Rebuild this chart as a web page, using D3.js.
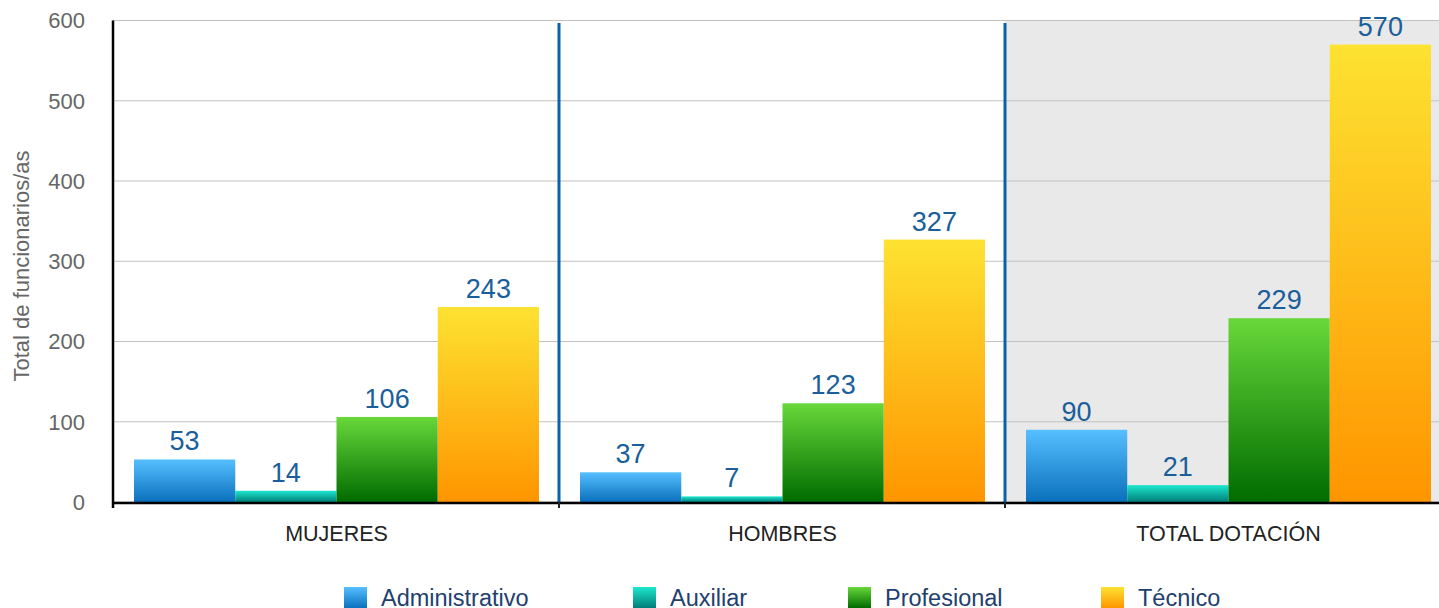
<!DOCTYPE html>
<html><head><meta charset="utf-8">
<script src="https://cdn.jsdelivr.net/npm/d3@7"></script>
<style>body{margin:0;background:#fff;overflow:hidden}svg{display:block;font-family:"Liberation Sans",Arial,sans-serif}</style>
</head><body><svg id="c" width="1439" height="608"></svg>
<script>
const categories = ["MUJERES", "HOMBRES", "TOTAL DOTACIÓN"];
const seriesNames = ["Administrativo", "Auxiliar", "Profesional", "Técnico"];
const administrativo = [53, 37, 90];
const auxiliar = [14, 7, 21];
const profesional = [106, 123, 229];
const tecnico = [243, 327, 570];
const yTicks = [0, 100, 200, 300, 400, 500, 600];
const yTitle = "Total de funcionarios/as";

(function () {
const seriesValues = [administrativo, auxiliar, profesional, tecnico];
const gradStops = [["#56bfff", "#0a70bc"], ["#1de8cf", "#007d78"], ["#68d83a", "#006b00"], ["#fde232", "#ff9500"]];

const svg = d3.select("#c");
const plotLeft = 113, plotBottom = 502, plotTop = 20.5, bandW = 446;
const x = d3.scaleBand().domain(categories).range([plotLeft, plotLeft + bandW * 3]).padding(0);
const xi = d3.scaleBand().domain(seriesNames).range([21, bandW - 20]).padding(0);
const y = d3.scaleLinear().domain([0, 600]).range([plotBottom, plotTop]);

const defs = svg.append("defs");
gradStops.forEach((g, i) => {
  const lg = defs.append("linearGradient").attr("id", "g" + i).attr("x1", 0).attr("y1", 0).attr("x2", 0).attr("y2", 1);
  lg.append("stop").attr("offset", "0%").attr("stop-color", g[0]);
  lg.append("stop").attr("offset", "100%").attr("stop-color", g[1]);
});

svg.append("rect").attr("x", x("TOTAL DOTACIÓN")).attr("y", y(600)).attr("width", x.bandwidth()).attr("height", y(0) - y(600)).attr("fill", "#e9e9e9");

svg.append("g").selectAll("line").data(yTicks).join("line")
  .attr("x1", plotLeft).attr("x2", 1439).attr("y1", d => y(d)).attr("y2", d => y(d))
  .attr("stroke", "#c2c2c2").attr("stroke-width", 1.2);

svg.append("g").selectAll("text").data(yTicks).join("text")
  .attr("x", 85).attr("y", d => y(d)).attr("dy", "0.36em").attr("text-anchor", "end")
  .attr("font-size", 22).attr("fill", "#666").text(d => d);

svg.append("text").attr("transform", "translate(29,266) rotate(-90)").attr("text-anchor", "middle")
  .attr("font-size", 22).attr("fill", "#666").text(yTitle);

const groups = svg.append("g").selectAll("g").data(categories).join("g")
  .attr("transform", d => `translate(${x(d)},0)`);
seriesNames.forEach((s, si) => {
  groups.append("rect")
    .attr("x", xi(s)).attr("width", xi.bandwidth())
    .attr("y", (d, ci) => y(seriesValues[si][ci]))
    .attr("height", (d, ci) => y(0) - y(seriesValues[si][ci]))
    .attr("fill", `url(#g${si})`);
  groups.append("text")
    .attr("x", xi(s) + xi.bandwidth() / 2)
    .attr("y", (d, ci) => y(seriesValues[si][ci]) - 9)
    .attr("text-anchor", "middle").attr("font-size", 27).attr("fill", "#1a5e9a")
    .text((d, ci) => seriesValues[si][ci]);
});

svg.append("g").selectAll("line").data(categories.slice(1)).join("line")
  .attr("x1", d => x(d)).attr("x2", d => x(d)).attr("y1", 23).attr("y2", plotBottom)
  .attr("stroke", "#0a62ad").attr("stroke-width", 3);

svg.append("line").attr("x1", plotLeft).attr("x2", 1439).attr("y1", plotBottom + 1).attr("y2", plotBottom + 1).attr("stroke", "#000").attr("stroke-width", 2.5);
svg.append("line").attr("x1", plotLeft).attr("x2", plotLeft).attr("y1", plotTop).attr("y2", plotBottom + 6).attr("stroke", "#000").attr("stroke-width", 2.5);
svg.append("g").selectAll("line").data(categories.slice(1)).join("line")
  .attr("x1", d => x(d)).attr("x2", d => x(d)).attr("y1", plotBottom).attr("y2", plotBottom + 6)
  .attr("stroke", "#222").attr("stroke-width", 2);

svg.append("g").selectAll("text").data(categories).join("text")
  .attr("x", d => x(d) + xi(seriesNames[0]) + (xi.bandwidth() * 4) / 2).attr("y", 541)
  .attr("text-anchor", "middle").attr("font-size", 21.5).attr("fill", "#222").text(d => d);

const legX = [344, 633, 848, 1101];
const leg = svg.append("g").selectAll("g").data(seriesNames).join("g")
  .attr("transform", (d, i) => `translate(${legX[i]},587)`);
leg.append("rect").attr("width", 23).attr("height", 21).attr("fill", (d, i) => `url(#g${i})`);
leg.append("text").attr("x", 37).attr("y", 19).attr("font-size", 23.5).attr("fill", "#22406e").text(d => d);
})();
</script></body></html>
